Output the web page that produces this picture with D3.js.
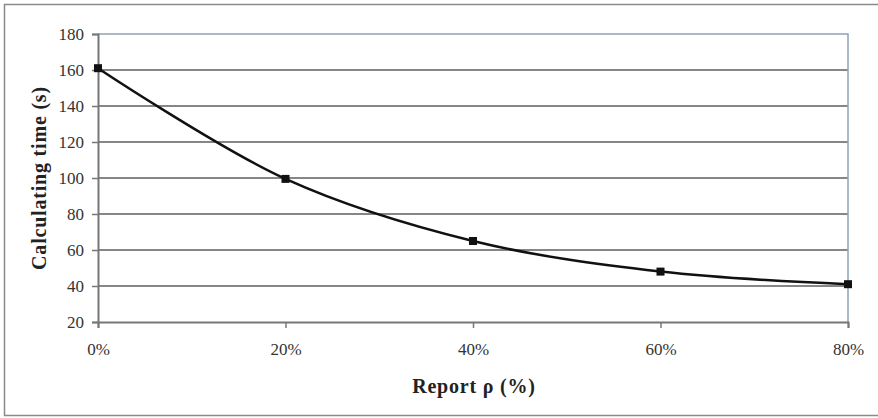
<!DOCTYPE html>
<html><head><meta charset="utf-8">
<script src="https://cdn.jsdelivr.net/npm/d3@7"></script>
<style>body{margin:0;background:#fff;}svg{display:block;}</style>
</head><body><svg id="c" width="878" height="418"></svg>
<script>
const categories = [0, 20, 40, 60, 80];
const xTickLabels = ["0%", "20%", "40%", "60%", "80%"];
const values = [161, 99.5, 65, 48, 41];
const yTicks = [20, 40, 60, 80, 100, 120, 140, 160, 180];

const svg = d3.select("#c");
const L = 98, T = 34, R = 848, B = 322;
const x = d3.scaleLinear().domain([0, 80]).range([L, R]);
const y = d3.scaleLinear().domain([20, 180]).range([B, T]);
const font = "'Liberation Serif', 'Times New Roman', serif";

// outer frame
svg.append("path").attr("d", "M878,4.5H4.5V415.5H878").attr("fill", "none").attr("stroke", "#8a8a8a").attr("stroke-width", 1.5);

// gridlines
const gridVals = yTicks.filter(v => v > 20 && v < 180);
svg.append("g").selectAll("line").data(gridVals).join("line")
  .attr("x1", L).attr("x2", R).attr("y1", d => y(d)).attr("y2", d => y(d))
  .attr("stroke", "#5e5e5e").attr("stroke-width", 1.3);
// top and right border of plot (bluish)
svg.append("path").attr("d", `M${L},${y(180)}H${R}V${B}`).attr("fill", "none").attr("stroke", "#8fa3b5").attr("stroke-width", 1.5);

// y axis
const yAxis = d3.axisLeft(y).tickValues(yTicks).tickSize(6).tickPadding(8).tickFormat(d3.format("d"));
const gy = svg.append("g").attr("transform", `translate(${L},0)`).call(yAxis);
gy.select(".domain").attr("stroke", "#777").attr("stroke-width", 2);
gy.selectAll(".tick line").attr("stroke", "#777").attr("stroke-width", 1.5);
gy.selectAll("text").attr("font-family", font).attr("font-size", 17).attr("fill", "#333");

// x axis
const xAxis = d3.axisBottom(x).tickValues(categories).tickSize(6).tickPadding(15).tickFormat((d, i) => xTickLabels[i]);
const gx = svg.append("g").attr("transform", `translate(0,${B})`).call(xAxis);
gx.select(".domain").attr("stroke", "#777").attr("stroke-width", 2);
gx.selectAll(".tick line").attr("stroke", "#777").attr("stroke-width", 1.5);
gx.selectAll("text").attr("font-family", font).attr("font-size", 17).attr("fill", "#333");

// line
const pts = categories.map((c, i) => [c, values[i]]);
svg.append("path").datum(pts)
  .attr("d", d3.line().x(d => x(d[0])).y(d => y(d[1])).curve(d3.curveCatmullRom.alpha(0.5)))
  .attr("fill", "none").attr("stroke", "#111").attr("stroke-width", 2.5);
svg.append("g").selectAll("rect").data(pts).join("rect")
  .attr("x", d => x(d[0]) - 4).attr("y", d => y(d[1]) - 4).attr("width", 8).attr("height", 8).attr("fill", "#111");

// titles
svg.append("text").attr("x", 474).attr("y", 393).attr("text-anchor", "middle")
  .attr("font-family", font).attr("font-weight", "bold").attr("font-size", 20).attr("fill", "#222")
  .attr("letter-spacing", 0.8).text("Report ρ (%)");
svg.append("text").attr("transform", `translate(46,${(T + B) / 2}) rotate(-90)`).attr("text-anchor", "middle")
  .attr("font-family", font).attr("font-weight", "bold").attr("font-size", 20).attr("fill", "#222")
  .attr("letter-spacing", 0.8).text("Calculating time (s)");
</script></body></html>
